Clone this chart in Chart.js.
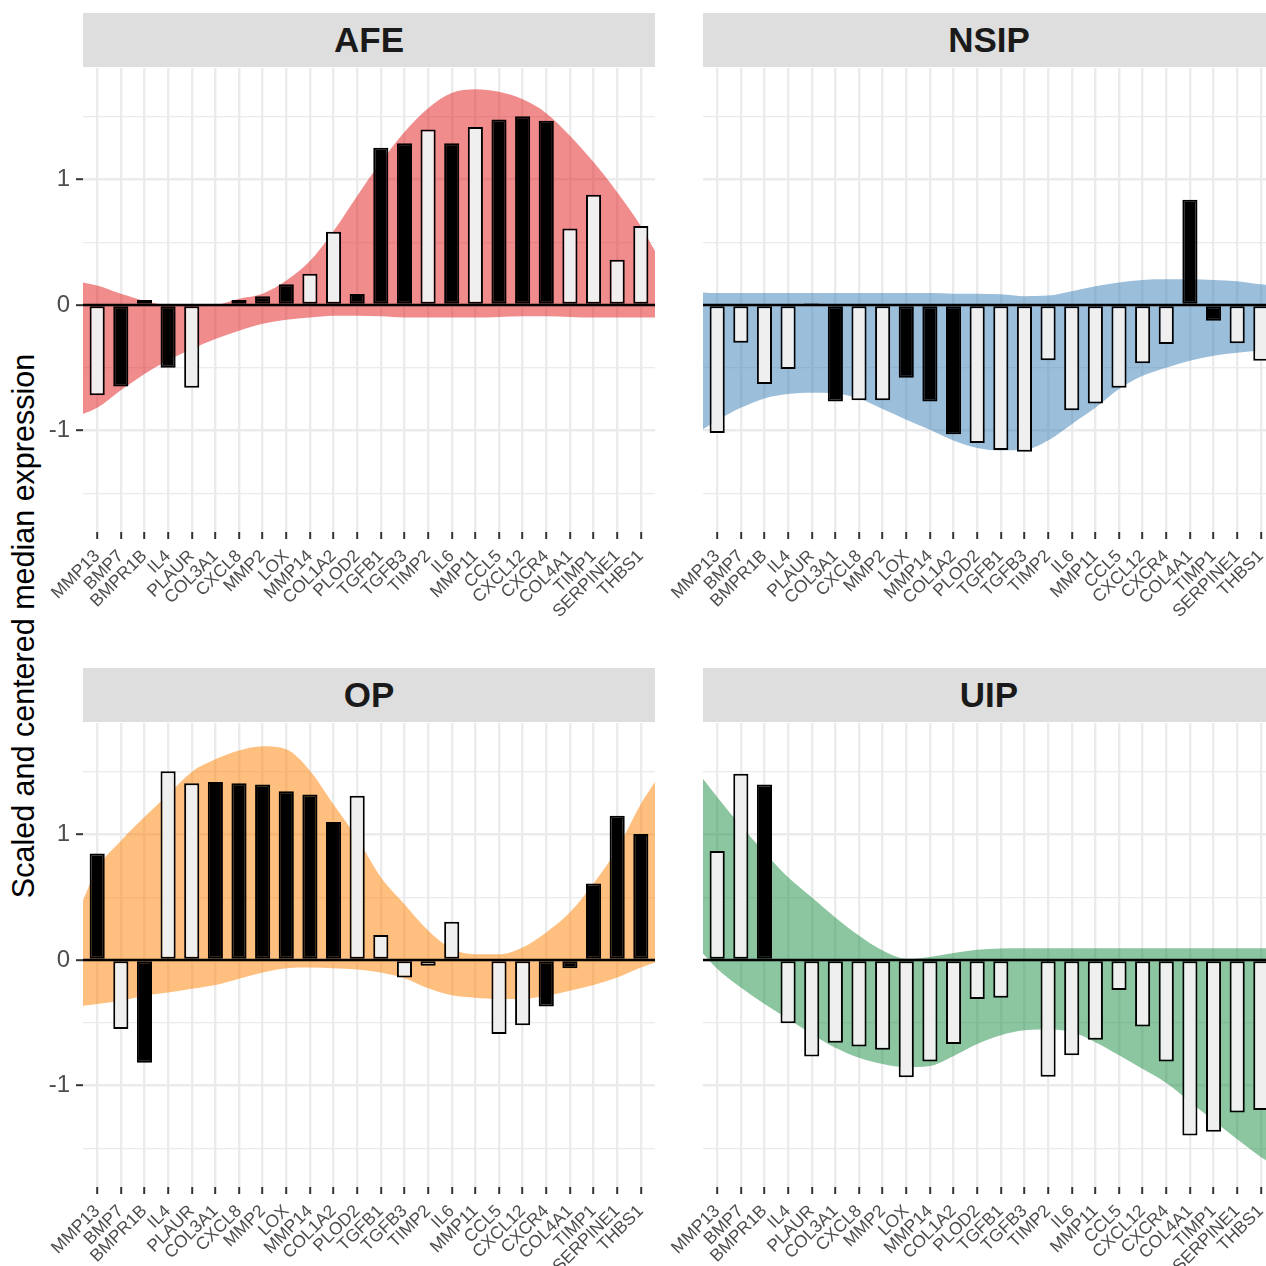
<!DOCTYPE html>
<html>
<head>
<meta charset="utf-8">
<title>Scaled and centered median expression</title>
<script src="https://cdn.jsdelivr.net/npm/chart.js@4.4.1/dist/chart.umd.min.js"></script>
<style>
  html, body { margin: 0; padding: 0; background: #fff; overflow: hidden; width: 1266px; height: 1266px; }
  #wrap { position: relative; width: 1300px; height: 1300px; }
  canvas { position: absolute; }
  .strip {
    position: absolute; width: 572px; height: 54px; background: #DEDEDE;
    font: bold 35px "Liberation Sans", Arial, sans-serif; color: #1A1A1A;
    display: flex; align-items: center; justify-content: center; z-index: 2;
  }
  #ytitle {
    position: absolute; left: 23px; top: 626px; white-space: nowrap;
    font: 30.5px "Liberation Sans", Arial, sans-serif; color: #000;
    transform: translate(-50%, -50%) rotate(-90deg);
  }
</style>
</head>
<body>
<div id="wrap">
  <div id="ytitle">Scaled and centered median expression</div>
  <div class="strip" style="left:83px;top:13px">AFE</div>
  <div class="strip" style="left:703px;top:13px">NSIP</div>
  <div class="strip" style="left:83px;top:668px">OP</div>
  <div class="strip" style="left:703px;top:668px">UIP</div>
  <canvas id="cAFE" width="665" height="594" style="left:0;top:38px"></canvas>
  <canvas id="cNSIP" width="665" height="594" style="left:620px;top:38px"></canvas>
  <canvas id="cOP" width="665" height="594" style="left:0;top:693px"></canvas>
  <canvas id="cUIP" width="665" height="594" style="left:620px;top:693px"></canvas>
</div>
<script>
const genes = ['MMP13', 'BMP7', 'BMPR1B', 'IL4', 'PLAUR', 'COL3A1', 'CXCL8', 'MMP2', 'LOX', 'MMP14',
  'COL1A2', 'PLOD2', 'TGFB1', 'TGFB3', 'TIMP2', 'IL6', 'MMP11', 'CCL5', 'CXCL12', 'CXCR4',
  'COL4A1', 'TIMP1', 'SERPINE1', 'THBS1'];

const yTicks = [-1.5, -1, -0.5, 0, 0.5, 1, 1.5];
const X_MIN = 0.4;
const X_MAX = 24.6;
const Y_MIN = -1.81;
const Y_MAX = 1.89;

// bar heights per gene, 1 = black bar, 0 = light bar
const afeValues = [-0.72, -0.65, 0.04, -0.50, -0.66, 0.0, 0.04, 0.07, 0.165, 0.25, 0.585, 0.088,
  1.255, 1.29, 1.40, 1.29, 1.42, 1.48, 1.505, 1.47, 0.61, 0.88, 0.36, 0.63];
const afeDark = [0, 1, 1, 1, 0, 0, 0, 1, 1, 0, 0, 1, 1, 1, 0, 1, 0, 1, 1, 1, 0, 0, 0, 0];

const nsipValues = [-1.02, -0.30, -0.63, -0.51, 0.015, -0.77, -0.76, -0.76, -0.58, -0.77, -1.03, -1.10,
  -1.157, -1.17, -0.44, -0.84, -0.785, -0.66, -0.465, -0.31, 0.84, -0.125, -0.305, -0.445];
const nsipDark = [0, 0, 0, 0, 0, 1, 0, 0, 1, 1, 1, 0, 0, 0, 0, 0, 0, 0, 0, 0, 1, 1, 0, 0];

const opValues = [0.85, -0.55, -0.82, 1.505, 1.41, 1.42, 1.41, 1.40, 1.345, 1.32, 1.10, 1.31,
  0.20, -0.14, -0.045, 0.305, -0.01, -0.59, -0.52, -0.37, -0.065, 0.61, 1.15, 1.005];
const opDark = [1, 0, 1, 0, 0, 1, 1, 1, 1, 1, 1, 0, 0, 0, 0, 0, 1, 0, 0, 1, 1, 1, 1, 1];

const uipValues = [0.87, 1.485, 1.40, -0.505, -0.77, -0.66, -0.69, -0.715, -0.935, -0.81, -0.67, -0.31,
  -0.30, 0.01, -0.93, -0.76, -0.635, -0.24, -0.53, -0.81, -1.40, -1.37, -1.215, -1.195];
const uipDark = [0, 0, 1, 0, 0, 0, 0, 0, 0, 0, 0, 0, 0, 0, 0, 0, 0, 0, 0, 0, 0, 0, 0, 0];

// ribbon bounds: left panel edge, one value per gene, right panel edge
const afeUpper = [0.18, 0.155, 0.09, 0.035, 0.0, -0.005, 0.0, 0.05, 0.09, 0.195, 0.35, 0.59, 0.87,
  1.14, 1.38, 1.57, 1.69, 1.72, 1.70, 1.64, 1.53, 1.35, 1.14, 0.90, 0.63, 0.43];
const afeLower = [-0.87, -0.82, -0.68, -0.55, -0.44, -0.35, -0.27, -0.205, -0.15, -0.117, -0.10, -0.085, -0.085,
  -0.09, -0.10, -0.10, -0.10, -0.10, -0.095, -0.09, -0.09, -0.095, -0.10, -0.10, -0.10, -0.10];

const nsipUpper = [0.10, 0.095, 0.095, 0.095, 0.095, 0.095, 0.095, 0.095, 0.095, 0.095, 0.095, 0.09, 0.09,
  0.085, 0.07, 0.075, 0.11, 0.15, 0.18, 0.20, 0.205, 0.205, 0.20, 0.19, 0.165, 0.155];
const nsipLower = [-0.99, -0.92, -0.82, -0.745, -0.71, -0.70, -0.705, -0.745, -0.83, -0.915, -0.995, -1.08, -1.14,
  -1.16, -1.155, -1.08, -0.95, -0.82, -0.67, -0.565, -0.50, -0.445, -0.405, -0.38, -0.365, -0.36];

const opUpper = [0.475, 0.73, 0.95, 1.14, 1.32, 1.50, 1.60, 1.67, 1.705, 1.68, 1.51, 1.24, 0.97,
  0.66, 0.445, 0.235, 0.09, 0.045, 0.045, 0.10, 0.22, 0.38, 0.61, 0.885, 1.245, 1.42];
const opLower = [-0.365, -0.35, -0.325, -0.285, -0.26, -0.23, -0.20, -0.15, -0.10, -0.065, -0.06, -0.065, -0.075,
  -0.10, -0.145, -0.225, -0.28, -0.30, -0.31, -0.31, -0.285, -0.245, -0.20, -0.14, -0.06, -0.02];

const uipUpper = [1.445, 1.30, 1.07, 0.86, 0.66, 0.50, 0.34, 0.195, 0.075, 0.01, 0.025, 0.055, 0.082,
  0.092, 0.093, 0.093, 0.093, 0.093, 0.093, 0.093, 0.093, 0.093, 0.093, 0.093, 0.093, 0.093];
const uipLower = [0.05, -0.07, -0.22, -0.35, -0.47, -0.59, -0.70, -0.78, -0.83, -0.855, -0.845, -0.765, -0.67,
  -0.60, -0.56, -0.555, -0.575, -0.655, -0.76, -0.87, -0.98, -1.13, -1.28, -1.43, -1.57, -1.64];

Chart.defaults.font.family = '"Liberation Sans", Arial, sans-serif';

const ribbonX = [X_MIN, ...genes.map((g, i) => i + 1), X_MAX];

function toPoints(xs, ys) {
  return ys.map((y, i) => ({ x: xs[i], y }));
}

function crearPanel(id, values, dark, upper, lower, fillColor, showY) {
  const ctx = document.getElementById(id).getContext('2d');
  const isMajor = (c) => c.tick && Number.isInteger(c.tick.value);

  return new Chart(ctx, {
    type: 'bar',
    data: {
      datasets: [
        {
          type: 'line',
          data: toPoints(ribbonX, lower),
          borderWidth: 0,
          pointRadius: 0,
          fill: false,
          cubicInterpolationMode: 'monotone',
          order: 3
        },
        {
          type: 'line',
          data: toPoints(ribbonX, upper),
          borderWidth: 0,
          pointRadius: 0,
          backgroundColor: fillColor,
          fill: '-1',
          cubicInterpolationMode: 'monotone',
          order: 3
        },
        {
          type: 'bar',
          data: values.map((v, i) => ({ x: i + 1, y: v })),
          backgroundColor: dark.map(d => d ? '#000000' : '#EFEFEF'),
          borderColor: '#000000',
          borderWidth: 2,
          borderSkipped: false,
          categoryPercentage: 1,
          barPercentage: 0.64,
          order: 2
        },
        {
          type: 'line',
          data: [{ x: X_MIN, y: 0 }, { x: X_MAX, y: 0 }],
          borderColor: '#000000',
          borderWidth: 2.5,
          pointRadius: 0,
          fill: false,
          order: 1
        }
      ]
    },
    options: {
      responsive: false,
      animation: false,
      events: [],
      layout: { padding: { left: 0, top: 30, right: 10, bottom: 0 } },
      plugins: { legend: { display: false }, tooltip: { enabled: false } },
      scales: {
        x: {
          type: 'linear',
          min: X_MIN,
          max: X_MAX,
          offset: false,
          afterBuildTicks: (axis) => { axis.ticks = genes.map((g, i) => ({ value: i + 1 })); },
          afterFit: (axis) => { axis.height = 100; },
          border: { display: false },
          grid: {
            offset: false,
            color: '#EBEBEB',
            lineWidth: 2.4,
            tickLength: 7,
            tickColor: '#333333',
            tickWidth: 2
          },
          ticks: {
            autoSkip: false,
            minRotation: 45,
            maxRotation: 45,
            padding: 7,
            color: '#4D4D4D',
            font: { size: 17.5 },
            callback: (v, i) => genes[i]
          }
        },
        y: {
          min: Y_MIN,
          max: Y_MAX,
          afterBuildTicks: (axis) => { axis.ticks = yTicks.map(v => ({ value: v })); },
          afterFit: (axis) => { axis.width = 83; },
          border: { display: false },
          grid: {
            color: '#EBEBEB',
            lineWidth: (c) => isMajor(c) ? 2.4 : 1.2,
            tickLength: 7,
            tickColor: (c) => (showY && isMajor(c)) ? '#333333' : 'rgba(0,0,0,0)',
            tickWidth: 2
          },
          ticks: {
            display: showY,
            padding: 6,
            color: '#4D4D4D',
            font: { size: 24 },
            callback: (v) => Number.isInteger(v) ? String(v) : ''
          }
        }
      }
    }
  });
}

document.addEventListener('DOMContentLoaded', () => {
  crearPanel('cAFE', afeValues, afeDark, afeUpper, afeLower, 'rgba(228,26,28,0.5)', true);
  crearPanel('cNSIP', nsipValues, nsipDark, nsipUpper, nsipLower, 'rgba(55,126,184,0.5)', false);
  crearPanel('cOP', opValues, opDark, opUpper, opLower, 'rgba(255,127,0,0.5)', true);
  crearPanel('cUIP', uipValues, uipDark, uipUpper, uipLower, 'rgba(25,141,65,0.5)', false);
});
</script>
</body>
</html>
